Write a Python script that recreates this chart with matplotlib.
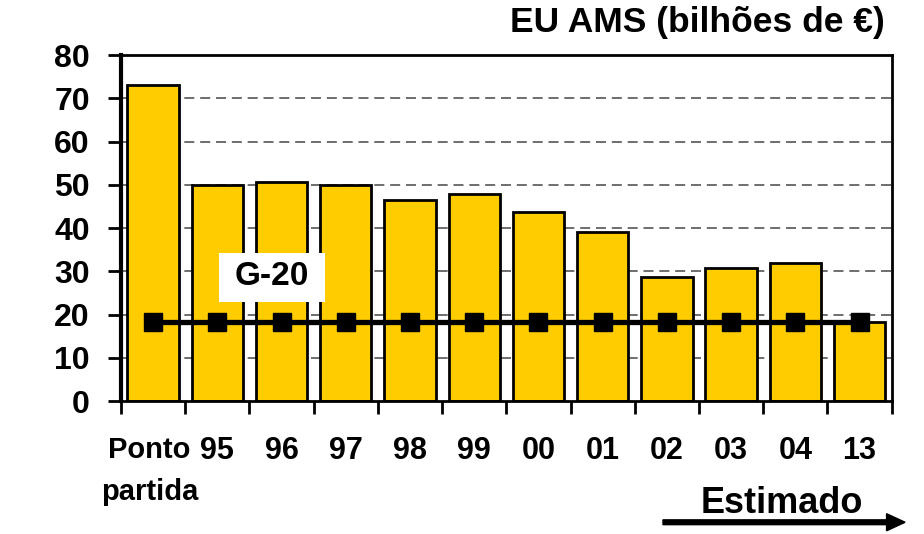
import numpy as np
import matplotlib.pyplot as plt
from matplotlib.ticker import FixedLocator
from matplotlib.patches import Rectangle, FancyArrow

plt.rcParams['font.family'] = ['Liberation Sans', 'DejaVu Sans']
plt.rcParams['font.weight'] = 'bold'

# dados
categorias = ['Ponto\npartida', '95', '96', '97', '98', '99', '00', '01', '02', '03', '04', '13']
ams = [73.0, 50.0, 50.6, 50.0, 46.5, 47.9, 43.8, 39.0, 28.6, 30.7, 32.0, 18.2]
g20 = [18.3] * len(categorias)

fig = plt.figure(figsize=(9.24, 5.34), dpi=100)
ax = fig.add_axes([0.131, 0.249, 0.834, 0.648])

x = np.arange(len(categorias))
ax.bar(x, ams, width=0.8, color='#FFCC00', edgecolor='black', linewidth=2, zorder=2)
ax.plot(x, g20, color='black', linewidth=3.8, marker='s', markersize=13, zorder=3)

ax.set_xlim(-0.5, len(categorias) - 0.5)
ax.set_ylim(0, 80)
ax.set_yticks(range(0, 81, 10))

# linhas de grade tracejadas
for yv in range(10, 80, 10):
    ax.axhline(yv, color='#555555', linestyle=(0, (6, 3.5)), linewidth=1.2, zorder=1)

# rótulos do eixo x (o primeiro fica à parte, um pouco à esquerda)
ax.set_xticks(x)
ax.set_xticklabels([''] + categorias[1:], fontsize=22, fontweight='bold')
ax.annotate(categorias[0], xy=(x[0] - 0.06, 0), xycoords=ax.get_xaxis_transform(),
            xytext=(0, -25.5), textcoords='offset points', ha='center', va='top',
            fontsize=21, fontweight='bold', linespacing=1.6, annotation_clip=False)
ax.xaxis.set_minor_locator(FixedLocator(np.arange(-0.5, len(categorias), 1)))
ax.tick_params(axis='x', which='major', length=0, pad=25)
ax.tick_params(axis='x', which='minor', length=9, width=2, direction='out')
ax.tick_params(axis='y', length=9.5, width=2, direction='out', labelsize=23, pad=13)
for lab in ax.get_yticklabels():
    lab.set_fontweight('bold')

for s in ax.spines.values():
    s.set_linewidth(2)
ax.spines['left'].set_linewidth(3)

# caixa G-20
ax.add_patch(Rectangle((1.03, 22.9), 1.65, 11.3, facecolor='white', edgecolor='none', zorder=4))
ax.text(1.85, 28.7, 'G-20', fontsize=24, fontweight='bold', ha='center', va='center', zorder=5)

fig.text(0.958, 0.958, 'EU AMS (bilhões de €)', fontsize=25.5, fontweight='bold',
         ha='right', va='center')

fig.text(0.846, 0.058, 'Estimado', fontsize=26, fontweight='bold', ha='center', va='center')
fig.patches.append(FancyArrow(
    0.7175, 0.022, 0.262, 0, width=0.009, head_width=0.032, head_length=0.02,
    length_includes_head=True, color='black', transform=fig.transFigure, figure=fig))

fig.savefig('out.png', dpi=100)
